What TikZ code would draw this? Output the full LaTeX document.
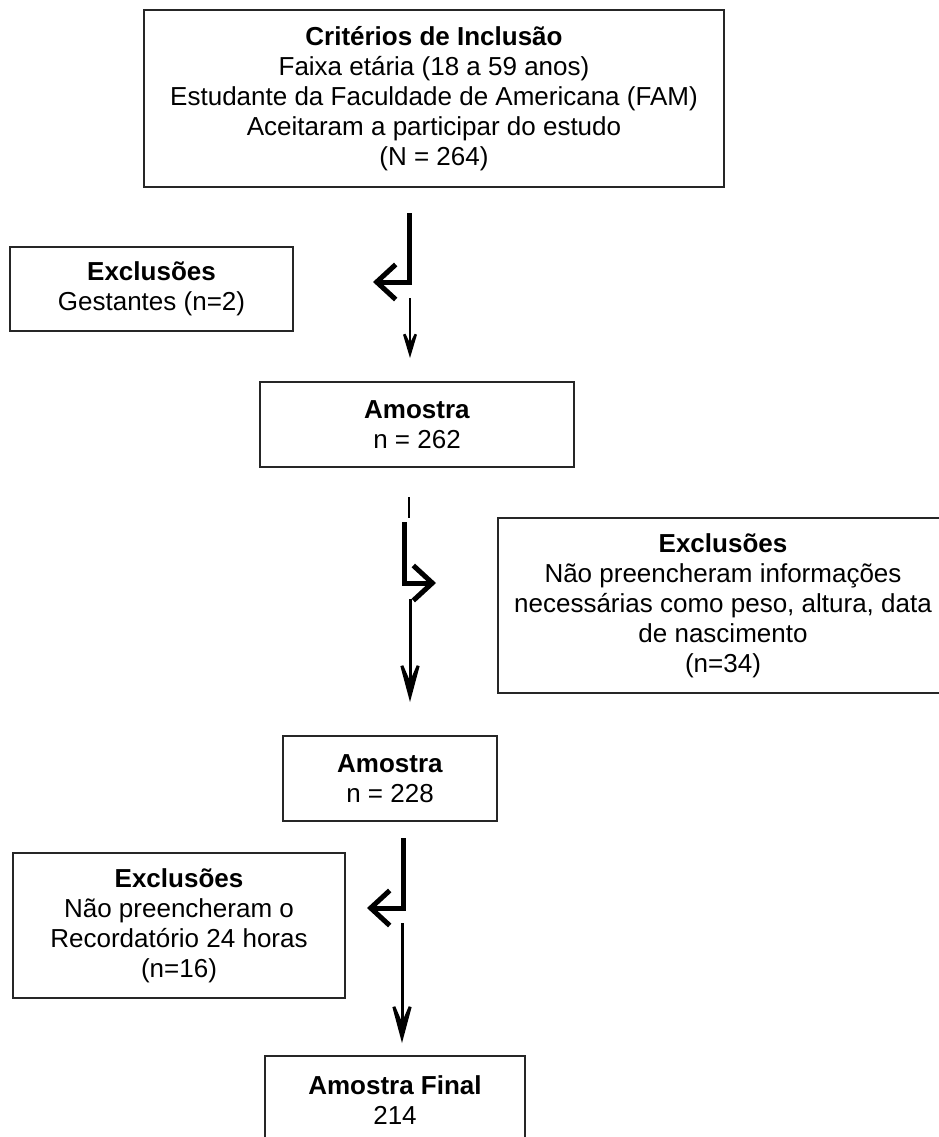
\documentclass[tikz,border=0pt]{standalone}
\usepackage{fontspec}
\setmainfont{Liberation Sans}
\usepackage{tikz}
\usetikzlibrary{arrows.meta, positioning, calc}
\tikzset{>=Latex}

% Stile fuer Kaesten und Pfeile
\tikzset{
  caixa/.style={draw=black!85, line width=0.04cm, fill=white, align=center,
    inner sep=0pt, font=\fontsize{14.8}{17.1}\selectfont},
  seta/.style={line width=0.05cm,
    -{Stealth[length=0.74cm, width=0.44cm, inset=0.44cm]}},
  setagrande/.style={line width=0.06cm,
    -{Stealth[length=1.12cm, width=0.6cm, inset=0.7cm]}},
  desvio/.style={line width=0.1cm, line join=miter,
    -{Straight Barb[length=0.38cm, width=0.7cm]}},
}

\begin{document}
\begin{tikzpicture}[x=0.02cm, y=-0.02cm]

         % Bildrahmen (Pixelkoordinaten)
         \fill[white] (0,0) rectangle (939,1137);
         \useasboundingbox (0,0) rectangle (939,1137);
         \clip (0,0) rectangle (939,1137);

         % Einschlusskriterien
         \node[caixa, minimum width=11.6cm, minimum height=3.54cm] (criterios) at (434,98.5)
            {\textbf{Critérios de Inclusão}\\Faixa etária (18 a 59 anos)\\Estudante da Faculdade de Americana (FAM)\\Aceitaram a participar do estudo\\(N = 264)};

         % erste Ausschluesse (links)
         \node[caixa, minimum width=5.66cm, minimum height=1.68cm] (gestantes) at (151.5,289)
            {\textbf{Exclusões}\\Gestantes (n=2)};

         % Stichprobe 262
         \node[caixa, minimum width=6.28cm, minimum height=1.7cm] (amostraA) at (417,424.5)
            {\textbf{Amostra}\\n = 262};

         % zweite Ausschluesse (rechts, am Bildrand abgeschnitten)
         \node[caixa, minimum width=9cm, minimum height=3.5cm] (dados) at (723,605.5)
            {\textbf{Exclusões}\\Não preencheram informações\\necessárias como peso, altura, data\\de nascimento\\(n=34)};

         % Stichprobe 228
         \node[caixa, minimum width=4.28cm, minimum height=1.7cm] (amostraB) at (390,778.5)
            {\textbf{Amostra}\\n = 228};

         % dritte Ausschluesse (links)
         \node[caixa, minimum width=6.64cm, minimum height=2.9cm] (recordatorio) at (179,925.5)
            {\textbf{Exclusões}\\Não preencheram o\\Recordatório 24 horas\\(n=16)};

         % Endstichprobe (unten abgeschnitten)
         \node[caixa, minimum width=5.2cm, minimum height=1.76cm] (final) at (395,1100)
            {\textbf{Amostra Final}\\214};

         % Endpunkte der Pfeile
         \coordinate (d1a) at (409,213);
         \coordinate (d1b) at (373,282);
         \coordinate (s1a) at (410,298);
         \coordinate (s1b) at (410,358);
         \coordinate (t2a) at (409,497);
         \coordinate (t2b) at (409,518);
         \coordinate (d2a) at (404,522);
         \coordinate (d2b) at (436,583);
         \coordinate (s2a) at (410,599);
         \coordinate (s2b) at (410,702);
         \coordinate (d3a) at (403,838);
         \coordinate (d3b) at (367,908);
         \coordinate (s3a) at (402,923);
         \coordinate (s3b) at (402,1043);

         % Abzweig nach links und Pfeil nach unten
         \draw[desvio] (d1a) |- (d1b);
         \draw[seta] (s1a) -- (s1b);

         % kurzes Stueck, Abzweig nach rechts, langer Pfeil
         \draw[line width=0.05cm] (t2a) -- (t2b);
         \draw[desvio] (d2a) |- (d2b);
         \draw[setagrande] (s2a) -- (s2b);

         % Abzweig nach links und langer Pfeil
         \draw[desvio] (d3a) |- (d3b);
         \draw[setagrande] (s3a) -- (s3b);

      \end{tikzpicture}
\end{document}
